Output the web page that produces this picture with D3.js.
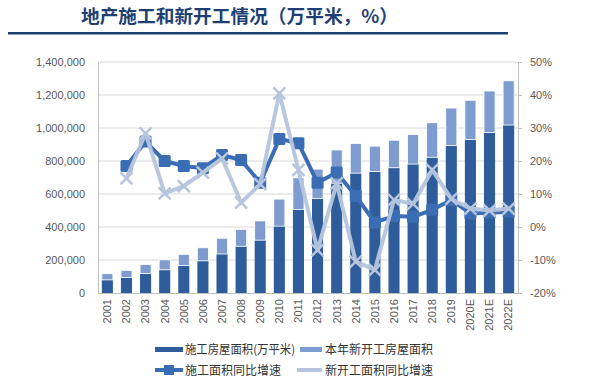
<!DOCTYPE html>
<html><head><meta charset="utf-8">
<script src="https://cdn.jsdelivr.net/npm/d3@7/dist/d3.min.js"></script>
<style>body{margin:0;background:#fff}svg{display:block}</style>
</head><body><svg id="c" width="600" height="382"></svg>
<script>
const years = ["2001","2002","2003","2004","2005","2006","2007","2008","2009","2010","2011","2012","2013","2014","2015","2016","2017","2018","2019","2020E","2021E","2022E"];
const underConstruction = [79412,94104,117526,140451,166053,194786,236318,283266,320368,405356,506775,573418,665572,726482,735693,758975,781484,822300,893821,931000,972000,1018000];
const newStarts = [37394,42800,54708,60414,68064,79253,95402,102553,116422,163647,191237,177334,201208,179592,154454,166928,178654,209342,227154,237000,252000,268000];
const constructionYoY = [null,18.5,25.9,20.0,18.5,17.8,21.8,20.3,13.4,26.7,25.4,13.4,16.5,9.4,1.4,3.3,3.1,5.2,8.2,4.1,4.3,4.6];
const newStartsYoY = [null,14.7,28.4,10.2,12.4,16.5,20.8,7.4,13.0,40.5,17.3,-7.0,13.2,-10.5,-13.0,8.2,7.0,17.3,8.5,5.6,5.0,5.6];
const leftTicks = [0,200000,400000,600000,800000,1000000,1200000,1400000];
const rightTicks = [-20,-10,0,10,20,30,40,50];

const C = {dark:"#2F5D9B", light:"#7E9CCF", line1:"#3A6DB3", line2:"#B6C5DD", grid:"#D9D9D9", text:"#595959"};
const svg = d3.select("#c");
const m = {l:98, r:518, t:62, b:293};

// title
svg.append("text").attr("x",81).attr("y",23).attr("font-family","'Noto Sans CJK SC'").attr("font-weight","bold")
  .attr("font-size",18.7).attr("fill","#1F3F73").text("地产施工和新开工情况（万平米，%）");
svg.append("rect").attr("x",8).attr("y",32).attr("width",500).attr("height",2.5).attr("fill","#1F3F73");

const x = d3.scaleBand().domain(years).range([m.l,m.r]).paddingInner(0.42).paddingOuter(0.2);
const yL = d3.scaleLinear().domain([0,1400000]).range([m.b,m.t]);
const yR = d3.scaleLinear().domain([-20,50]).range([m.b,m.t]);

// grid
svg.append("g").selectAll("line").data(leftTicks.slice(1)).join("line")
  .attr("x1",m.l).attr("x2",m.r).attr("y1",d=>yL(d)).attr("y2",d=>yL(d)).attr("stroke",C.grid);

// axes
const fmt = d3.format(",");
const gL = svg.append("g").attr("transform",`translate(${m.l},0)`)
  .call(d3.axisLeft(yL).tickValues(leftTicks).tickFormat(fmt).tickSize(0).tickPadding(13));
const gR = svg.append("g").attr("transform",`translate(${m.r},0)`)
  .call(d3.axisRight(yR).tickValues(rightTicks).tickFormat(d=>d+"%").tickSize(4).tickPadding(8));
const gX = svg.append("g").attr("transform",`translate(0,${m.b})`)
  .call(d3.axisBottom(x).tickSize(0).tickPadding(6));
[gL,gR,gX].forEach(g=>{
  g.select(".domain").attr("stroke","#BFBFBF");
  g.selectAll("line").attr("stroke","#BFBFBF");
  g.selectAll("text").attr("fill",C.text).attr("font-family","'Liberation Sans', Arial").attr("font-size",11);
});
gX.selectAll("text").attr("transform","rotate(-90)").attr("text-anchor","end").attr("dx","-6").attr("y",0).attr("x",0)
  .attr("dy","0.35em").attr("font-size",11);

// bars
const bars = svg.append("g");
bars.selectAll(".b1").data(years).join("rect")
  .attr("x",d=>x(d)).attr("width",x.bandwidth())
  .attr("y",(d,i)=>yL(underConstruction[i])).attr("height",(d,i)=>yL(0)-yL(underConstruction[i]))
  .attr("fill",C.dark);
bars.selectAll(".b2").data(years).join("rect")
  .attr("x",d=>x(d)).attr("width",x.bandwidth())
  .attr("y",(d,i)=>yL(underConstruction[i]+newStarts[i])).attr("height",(d,i)=>yL(underConstruction[i])-yL(underConstruction[i]+newStarts[i]))
  .attr("fill",C.light).attr("stroke","#fff").attr("stroke-width",0.8);

const cx = d=>x(d)+x.bandwidth()/2;
const pts1 = years.map((d,i)=>({d,v:constructionYoY[i]})).filter(p=>p.v!=null);
const pts2 = years.map((d,i)=>({d,v:newStartsYoY[i]})).filter(p=>p.v!=null);
const line = d3.line().x(p=>cx(p.d)).y(p=>yR(p.v));

svg.append("path").datum(pts1).attr("d",line).attr("fill","none").attr("stroke",C.line1).attr("stroke-width",4).attr("stroke-linejoin","round");
svg.append("g").selectAll("rect").data(pts1).join("rect")
  .attr("x",p=>cx(p.d)-6).attr("y",p=>yR(p.v)-6).attr("width",12).attr("height",12).attr("rx",1.5)
  .attr("fill",C.line1);

svg.append("path").datum(pts2).attr("d",line).attr("fill","none").attr("stroke",C.line2).attr("stroke-width",4).attr("stroke-linejoin","round").attr("opacity",0.95);
svg.append("g").selectAll("path").data(pts2).join("path")
  .attr("d",p=>{const X=cx(p.d),Y=yR(p.v),s=6;return `M${X-s},${Y-s}L${X+s},${Y+s}M${X-s},${Y+s}L${X+s},${Y-s}`;})
  .attr("stroke",C.line2).attr("stroke-width",2.5).attr("fill","none");

// legend
const lg = svg.append("g").attr("font-family","'Noto Sans CJK SC'").attr("font-size",12).attr("fill","#333");
lg.append("rect").attr("x",155).attr("y",347).attr("width",28).attr("height",5).attr("fill",C.dark);
lg.append("text").attr("x",185).attr("y",354).attr("textLength",110).attr("lengthAdjust","spacingAndGlyphs").text("施工房屋面积(万平米)");
lg.append("rect").attr("x",300).attr("y",347).attr("width",22).attr("height",5).attr("fill",C.light);
lg.append("text").attr("x",325).attr("y",354).text("本年新开工房屋面积");
lg.append("line").attr("x1",155).attr("x2",183).attr("y1",370).attr("y2",370).attr("stroke",C.line1).attr("stroke-width",4);
lg.append("rect").attr("x",164).attr("y",365).attr("width",10).attr("height",10).attr("fill",C.line1);
lg.append("text").attr("x",185).attr("y",375).text("施工面积同比增速");
lg.append("line").attr("x1",297).attr("x2",322).attr("y1",370).attr("y2",370).attr("stroke",C.line2).attr("stroke-width",4);
lg.append("text").attr("x",325).attr("y",375).text("新开工面积同比增速");
</script></body></html>
